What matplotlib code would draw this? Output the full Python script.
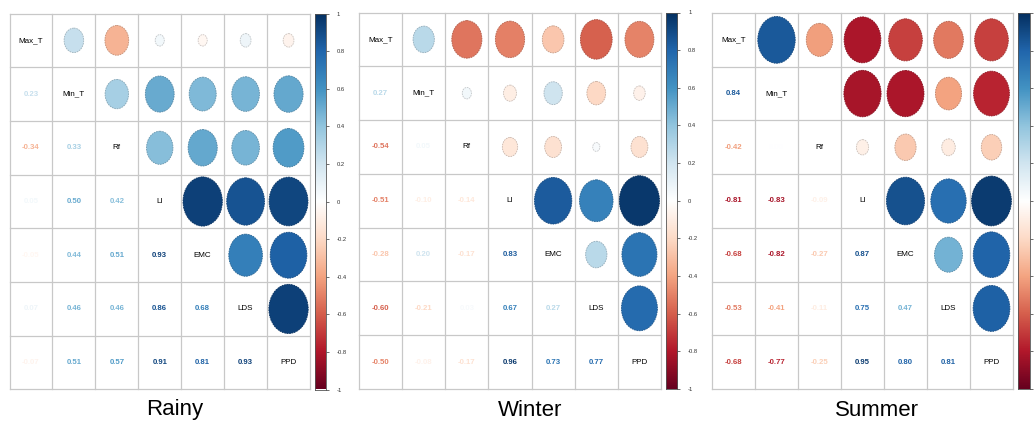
import numpy as np
import matplotlib
matplotlib.use("Agg")
import matplotlib.pyplot as plt
from matplotlib.colors import LinearSegmentedColormap
from matplotlib.patches import Ellipse
from matplotlib import font_manager

# ---------------- data ----------------
variables = ["Max_T", "Min_T", "Rf", "LI", "EMC", "LDS", "PPD"]
seasons = ["Rainy", "Winter", "Summer"]

# lower-triangle correlations, row i holds r(var_i, var_0..var_{i-1})
rainy_lower = [
    [0.23],
    [-0.34, 0.33],
    [0.05, 0.50, 0.42],
    [-0.05, 0.44, 0.51, 0.93],
    [0.07, 0.46, 0.46, 0.86, 0.68],
    [-0.07, 0.51, 0.57, 0.91, 0.81, 0.93],
]
winter_lower = [
    [0.27],
    [-0.54, 0.05],
    [-0.51, -0.10, -0.14],
    [-0.28, 0.20, -0.17, 0.83],
    [-0.60, -0.21, 0.03, 0.67, 0.27],
    [-0.50, -0.08, -0.17, 0.96, 0.73, 0.77],
]
summer_lower = [
    [0.84],
    [-0.42, 0.00],
    [-0.81, -0.83, -0.09],
    [-0.68, -0.82, -0.27, 0.87],
    [-0.53, -0.41, -0.11, 0.75, 0.47],
    [-0.68, -0.77, -0.25, 0.95, 0.80, 0.81],
]
colorbar_ticks = [1, 0.8, 0.6, 0.4, 0.2, 0, -0.2, -0.4, -0.6, -0.8, -1]

# ---------------- style ----------------
avail = {f.name for f in font_manager.fontManager.ttflist}
narrow = [f for f in ["Liberation Sans Narrow", "Liberation Sans", "DejaVu Sans"] if f in avail]
plt.rcParams["font.family"] = narrow

cmap = LinearSegmentedColormap.from_list(
    "corrRdBu",
    ["#67001F", "#B2182B", "#D6604D", "#F4A582", "#FDDBC7", "#FFFFFF",
     "#D1E5F0", "#92C5DE", "#4393C3", "#2166AC", "#053061"], N=200)

def cval(r):
    return cmap((r + 1) / 2)

W, H = 1036, 425
fig = plt.figure(figsize=(W / 100, H / 100), dpi=100)

def fax(l, t, r, b):
    return fig.add_axes([l / W, 1 - b / H, (r - l) / W, (b - t) / H])

panels = [
    dict(grid=(9.5, 13.5, 310, 389.5), cbar=(315, 325.5), title=(175, 410), labels=True),
    dict(grid=(359, 12.5, 661, 389), cbar=(666, 677), title=(530, 410), labels=True),
    dict(grid=(712, 13, 1013, 389), cbar=(1018, 1030), title=(877, 410), labels=False),
]
lowers = [rainy_lower, winter_lower, summer_lower]

n = len(variables)
for p, lower, name in zip(panels, lowers, seasons):
    M = np.eye(n)
    for i, row in enumerate(lower, start=1):
        for j, v in enumerate(row):
            M[i, j] = v
            M[j, i] = v
    l, t, r, b = p["grid"]
    ax = fax(l, t, r, b)
    ax.set_xlim(0, n)
    ax.set_ylim(n, 0)
    ax.axis("off")
    for k in range(n + 1):
        ax.plot([k, k], [0, n], color="#c8c8c8", lw=0.9, zorder=1, clip_on=False)
        ax.plot([0, n], [k, k], color="#c8c8c8", lw=0.9, zorder=1, clip_on=False)
    for i in range(n):
        for j in range(n):
            v = M[i, j]
            if i == j:
                ax.text(j + 0.5, i + 0.5, variables[i], ha="center", va="center",
                        fontsize=5.8, color="black", zorder=3)
            elif i > j:
                ax.text(j + 0.5, i + 0.5, f"{v:.2f}", ha="center", va="center",
                        fontsize=5.6, color=cval(v), fontweight="bold", zorder=3)
            else:
                d = 0.95 * np.sqrt(abs(v))
                if d > 0:
                    fc = cval(v)
                    ec = tuple(max(0, c * 0.8) for c in fc[:3])
                    e = Ellipse((j + 0.5, i + 0.5), d, d, facecolor=fc,
                                edgecolor=ec, lw=0.6, linestyle=(0, (2, 1)), zorder=2)
                    ax.add_patch(e)
    # colorbar
    cl, cr = p["cbar"]
    cax = fax(cl, t, cr, b)
    grad = np.linspace(1, -1, 200).reshape(-1, 1)
    cax.imshow(grad, cmap=cmap, vmin=-1, vmax=1, aspect="auto",
               extent=[0, 1, -1, 1], origin="upper")
    cax.set_xlim(0, 1)
    cax.set_ylim(-1, 1)
    cax.set_xticks([])
    cax.yaxis.tick_right()
    cax.set_yticks(colorbar_ticks)
    if p["labels"]:
        cax.set_yticklabels([f"{tk:g}" for tk in colorbar_ticks])
    else:
        cax.set_yticklabels([])
    cax.tick_params(axis="y", length=2, width=0.5, pad=6, labelsize=4.2,
                    colors="#333333", direction="out")
    for s in cax.spines.values():
        s.set_linewidth(0.6)
        s.set_color("#555555")
    tx, ty = p["title"]
    fig.text(tx / W, 1 - ty / H, name, ha="center", va="center",
             fontsize=16, color="black")

fig.savefig("out.png", dpi=100, facecolor="white")
